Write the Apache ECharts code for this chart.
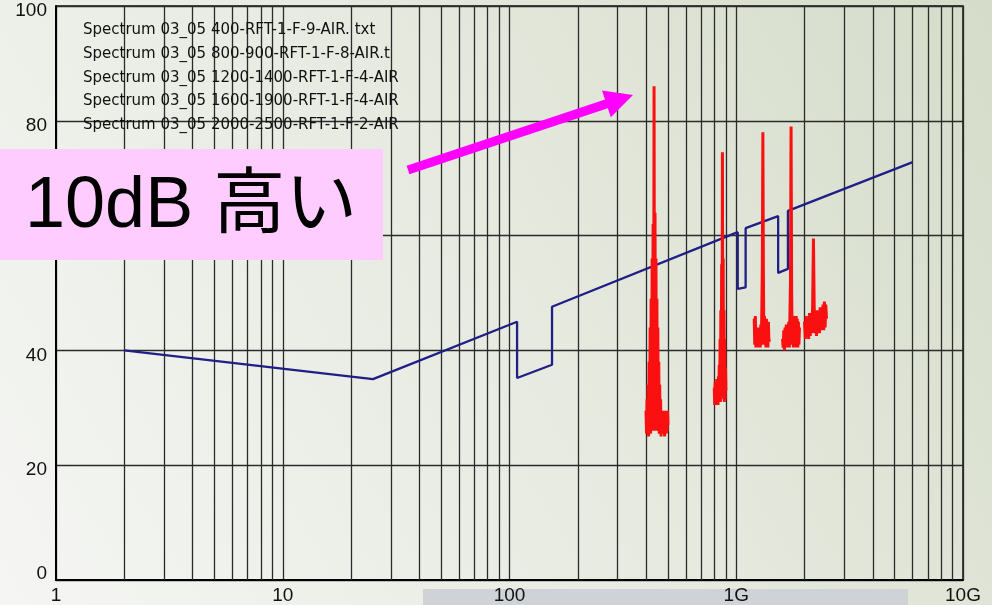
<!DOCTYPE html>
<html>
<head>
<meta charset="utf-8">
<script src="https://cdn.jsdelivr.net/npm/echarts@6/dist/echarts.min.js"></script>
<style>
  html, body { margin: 0; padding: 0; background: #fff; }
  #chart { width: 992px; height: 605px; }
</style>
</head>
<body>
<div id="chart"></div>
<script>
// Frequency axis (MHz, log scale)
const frequencyTicks = [1, 10, 100, 1000, 10000];
const frequencyTickLabels = ['1', '10', '100', '1G', '10G'];
const minorGridFrequencies = [
  2, 3, 4, 5, 6, 7, 8, 9,
  20, 30, 40, 50, 60, 70, 80, 90,
  200, 300, 400, 500, 600, 700, 800, 900,
  2000, 3000, 4000, 5000, 6000, 7000, 8000, 9000
];

// Level axis (dB)
const levelTicks = [0, 20, 40, 60, 80, 100];

// Limit line
const limitFrequencies = [2, 25, 108, 108, 154, 154, 1015, 1015, 1100, 1100, 1530, 1530, 1690, 1690, 6000];
const limitLevels      = [40, 35, 45, 35.2, 37.5, 47.6, 60.6, 50.7, 51.0, 61.3, 63.4, 53.5, 54.2, 64.3, 72.8];

// Measured spectra: sweep range (MHz) and levels (dB) per sweep point
const spectrumNames = [
  'Spectrum 03_05 400-RFT-1-F-9-AIR. txt',
  'Spectrum 03_05 800-900-RFT-1-F-8-AIR.t',
  'Spectrum 03_05 1200-1400-RFT-1-F-4-AIR',
  'Spectrum 03_05 1600-1900-RFT-1-F-4-AIR',
  'Spectrum 03_05 2000-2500-RFT-1-F-2-AIR'
];
const spectrumRanges = [[400, 500], [800, 900], [1200, 1400], [1600, 1900], [2000, 2500]];

const levels400 = [
  29.5, 25.5, 31.5, 26, 34, 25, 38, 26, 44, 25.5, 49, 27, 56, 26, 62, 28,
  86, 27, 64, 26, 56, 27.5, 49, 26, 44, 27, 38, 25.5, 34, 26.5, 31.5, 25,
  29.5, 26, 29.5, 25.5, 29, 26.5, 29.5, 25, 28.5, 26, 29.5, 25.5, 29, 26, 29.5, 27
];
const levels800 = [
  33.5, 30.5, 34.5, 31, 34, 30.5, 35, 31.5, 34, 30.5, 35.5, 31, 37.5, 31.5, 42,
  31, 47, 32, 55, 33, 74.5, 32.5, 56, 31.5, 47, 31, 42, 31.5, 37, 33
];
const levels1200 = [
  45.5, 41, 46, 40.5, 44, 41.5, 43.5, 40.5, 44, 41, 43.5, 40.5, 44.5, 41, 47,
  55, 78, 54, 41, 46, 41, 44, 40.5, 45.5, 41, 44, 40.5, 45, 41.5, 42
];
const levels1600 = [
  42, 40.5, 43.5, 40, 44, 41, 44.5, 40.5, 44, 41, 45, 40.5, 46, 52, 79,
  50, 41, 45.5, 40.5, 46, 41, 45, 40.5, 46, 41, 45.5, 40.5, 45, 41, 44
];
const levels2000 = [
  45, 42, 46, 42.5, 45.5, 42, 46.5, 42.5, 46, 43, 48, 59.5, 47.5, 43, 46.5,
  42.5, 47, 43.5, 46.5, 43, 47.5, 43.5, 47, 44, 48, 43.5, 48.5, 44, 48, 45.5
];
const spectrumLevels = [levels400, levels800, levels1200, levels1600, levels2000];

// Pair each level with its sweep frequency (evenly spaced across the sweep range)
function sweep(range, levels) {
  const n = levels.length;
  const step = (range[1] - range[0]) / (n - 1);
  return levels.map((v, i) => [range[0] + i * step, v]);
}

const limitData = limitFrequencies.map((f, i) => [f, limitLevels[i]]);

const gridColor = '#2b2b2b';
const labelFont = "'Liberation Sans', Arial, sans-serif";
const labelSize = 19;

const series = [
  {
    name: 'limit',
    type: 'line',
    data: limitData,
    showSymbol: false,
    symbol: 'none',
    z: 3,
    lineStyle: { color: '#1f1f86', width: 2.3 },
    markLine: {
      silent: true,
      z: 1,
      symbol: ['none', 'none'],
      label: { show: false },
      lineStyle: { color: gridColor, width: 1.3, type: 'solid' },
      emphasis: { disabled: true },
      data: minorGridFrequencies.map(f => ({ xAxis: f }))
    }
  }
].concat(spectrumNames.map((name, k) => ({
  name: name,
  type: 'line',
  data: sweep(spectrumRanges[k], spectrumLevels[k]),
  showSymbol: false,
  symbol: 'none',
  z: 4,
  lineStyle: { color: '#fa1010', width: 3, join: 'bevel' },
  itemStyle: { color: '#fa1010' }
})));

const chart = echarts.init(document.getElementById('chart'));
chart.setOption({
  animation: false,
  backgroundColor: new echarts.graphic.LinearGradient(1, 0, 0, 1, [
    { offset: 0, color: '#d5dcc9' },
    { offset: 0.45, color: '#e5e9de' },
    { offset: 1, color: '#f5f6f4' }
  ]),
  grid: {
    left: 56, right: 29, top: 6, bottom: 25,
    show: true,
    borderColor: '#111',
    borderWidth: 1.5,
    backgroundColor: 'transparent'
  },
  legend: {
    data: spectrumNames,
    orient: 'vertical',
    left: 73,
    top: 18,
    icon: 'none',
    itemWidth: 0,
    itemHeight: 14,
    itemGap: 8.6,
    selectedMode: false,
    textStyle: { fontFamily: "'DejaVu Sans', sans-serif", fontSize: 15, color: '#111' }
  },
  xAxis: {
    type: 'log',
    logBase: 10,
    min: frequencyTicks[0],
    max: frequencyTicks[frequencyTicks.length - 1],
    axisLine: { show: true, lineStyle: { color: '#000', width: 2 } },
    axisTick: { show: false },
    splitLine: { show: true, lineStyle: { color: gridColor, width: 1.3 } },
    axisLabel: {
      margin: 6,
      fontFamily: labelFont,
      fontSize: labelSize,
      color: '#111',
      formatter: v => {
        const i = frequencyTicks.findIndex(t => Math.abs(t - v) / t < 1e-6);
        return i >= 0 ? frequencyTickLabels[i] : '';
      }
    }
  },
  yAxis: {
    type: 'value',
    min: levelTicks[0],
    max: levelTicks[levelTicks.length - 1],
    interval: levelTicks[1] - levelTicks[0],
    axisLine: { show: true, lineStyle: { color: '#000', width: 2 } },
    axisTick: { show: false },
    splitLine: { show: true, lineStyle: { color: gridColor, width: 1.3 } },
    axisLabel: {
      margin: 9,
      formatter: v => (v === 0 ? '{z|' + v + '}' : '{a|' + v + '}'),
      rich: {
        a: { fontFamily: labelFont, fontSize: labelSize, color: '#111', padding: [10, 0, 0, 0] },
        z: { fontFamily: labelFont, fontSize: labelSize, color: '#111', padding: [0, 0, 12, 0] }
      }
    }
  },
  graphic: [
    // textured strip behind the lower tick labels
    {
      type: 'rect', z: -1, silent: true,
      shape: { x: 423, y: 589, width: 485, height: 16 },
      style: { fill: '#cfd3d7' }
    },
    // highlight box
    {
      type: 'rect', z: 50, silent: true,
      shape: { x: 0, y: 149, width: 383, height: 111 },
      style: { fill: '#ffccff' }
    },
    {
      type: 'text', z: 51, silent: true,
      x: 25, y: 207,
      style: {
        text: '10dB 高い',
        fontFamily: "'Liberation Sans', 'Noto Sans CJK JP', sans-serif",
        fontSize: 72,
        fill: '#000',
        verticalAlign: 'middle'
      }
    },
    // arrow
    {
      type: 'polygon', z: 50, silent: true,
      shape: {
        points: [
          [406.6, 165.7], [605.0, 99.6], [602.0, 90.6], [633, 95],
          [610.8, 117.2], [607.8, 108.2], [409.4, 174.3]
        ]
      },
      style: { fill: '#ff00ff' }
    }
  ],
  series: series
});
</script>
</body>
</html>
